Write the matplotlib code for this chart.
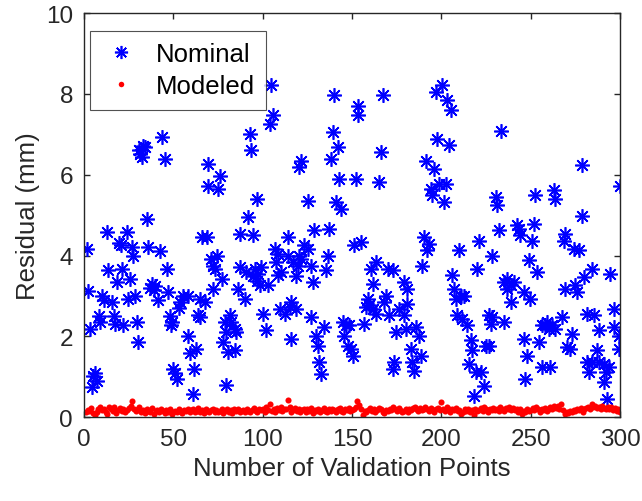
import matplotlib.pyplot as plt

plt.rcParams["font.family"] = ["Liberation Sans", "DejaVu Sans"]

# Nominal residuals (x = validation point index, y = mm)
nom_x = [1.5, 2.4, 3.4, 5.2, 6, 4.5, 7, 9, 8.5, 10, 11, 12.7, 13.6, 15.5, 17, 17.5,
         18.3, 19.5, 20.5, 21, 22, 23.9, 24.8, 25.7, 26.7, 27.5, 28.5, 29.5, 30.4,
         31.5, 32.5, 31, 34, 33, 35, 36, 37, 38, 39.7, 39, 41.6, 42.5, 43.5, 45.3,
         46.3, 47.2, 48, 49, 48.5, 50, 51, 52, 53.7, 53, 55.6,
         61, 58.2, 59.5, 61.5, 62.5, 58.2, 63.8, 64.7, 67.5, 69.4, 75.9, 69.4, 74.9,
         65.7, 68.5, 71.2, 74.1, 72.2, 73.1, 76.9, 72.2, 64.7, 79.6, 78.7, 81.5,
         79.6, 82.4, 84.3, 85.2, 77.8, 80.6, 84.3, 86.2, 89.9, 87.1, 94.6, 91.8,
         96.5, 92.7, 93.6, 87.1, 90.8, 95.5, 97.4, 98.3, 99.2, 94.6, 96.5, 100.1,
         102, 103, 104, 105.8, 104.8, 106.7, 108.5, 107.6, 108.5, 110.4, 109.5,
         112.3, 114, 114, 117, 116, 115, 116, 119.7,
         121.4, 120.5, 118.6, 120.5, 123.3, 125.2, 121.4, 127, 118.6, 128, 128.9,
         125.2, 127, 129.8, 130.8, 131.7, 132.6, 134.5, 135.4, 136.3, 137.3, 138.2,
         139.2, 142, 140.1, 141, 143.8, 142.9, 144.8, 146.6, 148.5, 145.7, 147.6,
         149.4, 150.4, 151.3, 155, 152.2, 153.1, 153.1, 156.9, 158.8, 159.7, 161.5,
         157.8, 163.4, 160.6, 163.4, 161.5, 165.3, 166.2, 167.1, 168.1, 170.9, 169,
         170, 172.7, 174.6, 173.6, 172.7, 176.5, 180.2,
         196.8, 200.5, 203.3, 205.2, 197.7, 204.3, 191.2, 195.9, 194, 198.7, 202.4,
         194.9, 201.5, 190.3, 193, 192.1, 189.3, 179.1, 180.9, 180.9, 179.1, 185.6,
         187.5, 188.4, 182.8, 183.7, 184.7, 206.1, 207, 208, 210.8, 212.7, 208.9,
         211.7, 214.5, 216.4, 217.3, 215.5, 219.2, 222, 223.8, 218.3, 209.8, 221,
         220.1, 228.5, 224.8, 226.6, 227.6, 228.5, 226.6, 235, 233.2, 230.4, 231.3,
         232.3, 235, 236.9, 238.8, 236.9, 238.8,
         242.3, 244.2, 243.2, 251.6, 250.7, 240.4, 246, 249.8, 248.8, 253.5, 252.6,
         262.8, 263.8, 278.7, 278.7, 300, 269.4, 268.4, 274, 276.8, 269.4, 274.9,
         275.9, 279.6, 284.3, 294.5, 246, 247.9, 246.9, 254.4, 256.4, 261, 256.4,
         258.2, 260.1, 262, 263.8, 267.5, 259.1, 273.1, 270.3, 272.2, 281.5, 285.2,
         288, 287.1, 281.5, 284.3, 282.4, 288, 290.8, 293.7, 291.8, 290.8, 292.7,
         296.4, 296.4, 299.2, 299.2]
nom_y = [4.17, 3.13, 2.19, 1.03, 1.1, 0.75, 0.9, 2.35, 2.5, 3.0, 2.9, 4.58, 3.63, 2.85,
         2.5, 2.3, 3.34, 4.3, 4.25, 3.67, 2.27, 4.58, 2.93, 3.43, 4.2, 4.0, 3.0, 2.35,
         1.86, 6.5, 6.43, 6.6, 6.68, 6.7, 4.9, 4.2, 3.2, 3.3, 3.25, 3.15, 2.89, 4.1,
         6.93, 6.4, 3.67, 3.09, 2.5, 2.35, 2.27, 1.2, 1.1, 0.95, 2.85, 2.7, 3.0,
         0.58, 2.0, 1.6, 1.19, 1.69, 3.0, 2.52, 2.93, 2.85, 6.27, 5.98, 5.73, 5.65,
         4.46, 4.46, 3.92, 4.0, 3.75, 3.67, 3.42, 3.18, 2.47, 0.79, 2.35, 2.52,
         2.1, 2.35, 2.19, 2.1, 1.86, 1.61, 1.65, 3.18, 2.93, 4.54, 4.5, 4.95,
         5.4, 7.01, 6.6, 3.71, 3.59, 3.67, 3.55, 3.26, 3.71, 3.5, 3.38, 2.56,
         2.15, 3.26, 7.26, 7.47, 8.21, 4.16, 4.04, 3.84, 3.51, 3.59, 2.68,
         2.56, 4.46, 4.0, 3.84, 2.85, 2.72, 1.93, 3.75,
         6.35, 6.19, 3.5, 4.0, 4.25, 4.16, 3.92, 3.75, 2.68, 3.34, 4.62,
         5.36, 2.47, 2.02, 1.77, 1.36, 1.07, 2.23, 3.63, 4.0, 4.66, 6.39,
         7.05, 6.68, 7.96, 5.32, 5.15, 5.9, 2.35, 2.27, 2.27, 2.02, 1.77,
         1.69, 1.52, 4.25, 4.33, 5.9, 7.71, 7.47, 2.31, 2.93, 2.77, 2.68,
         2.72, 2.56, 3.67, 3.84, 3.3, 5.81, 6.56, 7.96, 2.85, 2.52, 3.01,
         3.67, 3.63, 2.1, 1.36, 1.19, 2.68, 2.19,
         8.04, 8.21, 7.84, 7.59, 6.89, 6.73, 6.35, 6.15, 5.65, 5.77, 5.77,
         5.49, 5.32, 4.46, 4.29, 4.13, 3.75, 3.34, 3.18, 2.8, 2.52, 2.23,
         2.02, 1.52, 1.69, 1.36, 1.15, 3.51, 3.18, 2.93, 3.01, 3.01, 2.52,
         2.43, 2.27, 1.9, 1.65, 1.32, 1.11, 1.11, 0.78, 0.53, 4.13, 4.37,
         3.67, 4.0, 1.77, 1.77, 2.31, 2.47, 2.52, 2.35, 7.09, 5.45, 5.24,
         4.62, 3.34, 3.42, 3.26, 3.18, 2.85,
         4.75, 4.5, 4.66, 4.79, 4.37, 3.34, 3.1, 2.93, 3.88, 3.59, 5.49,
         5.61, 5.4, 6.23, 4.99, 5.73, 4.54, 4.37, 4.16, 4.13, 3.18, 3.26,
         3.09, 3.46, 3.67, 3.55, 1.93, 1.52, 0.94, 1.86, 1.24, 1.24, 2.27,
         2.27, 2.19, 2.27, 2.19, 2.47, 2.35, 2.06, 1.73, 1.69, 2.56, 2.52,
         2.15, 1.65, 1.36, 1.36, 1.11, 1.36, 1.32, 1.24, 1.11, 0.86, 0.45,
         2.68, 2.23, 2.02, 1.69]

# Modeled residuals, points 1..300
mod_y = [0.12, 0.18, 0.15, 0.22, 0.10, 0.05, 0.14, 0.20, 0.25, 0.17,
         0.21, 0.13, 0.09, 0.24, 0.19, 0.16, 0.26, 0.11, 0.18, 0.22,
         0.15, 0.20, 0.12, 0.17, 0.23, 0.28, 0.40, 0.21, 0.16, 0.19,
         0.24, 0.14, 0.18, 0.11, 0.20, 0.16, 0.13, 0.22, 0.09, 0.15,
         0.18, 0.12, 0.21, 0.15, 0.10, 0.17, 0.13, 0.19, 0.08, 0.14,
         0.16, 0.12, 0.20, 0.14, 0.11, 0.18, 0.15, 0.21, 0.13, 0.17,
         0.19, 0.12, 0.16, 0.22, 0.14, 0.18, 0.11, 0.20, 0.15, 0.13,
         0.17, 0.21, 0.14, 0.18, 0.12, 0.16, 0.20, 0.10, 0.15, 0.19,
         0.13, 0.17, 0.11, 0.21, 0.16, 0.19, 0.12, 0.15, 0.18, 0.14,
         0.20, 0.16, 0.12, 0.18, 0.22, 0.15, 0.13, 0.19, 0.17, 0.21,
         0.14, 0.24, 0.18, 0.33, 0.16, 0.20, 0.12, 0.23, 0.17, 0.26,
         0.15, 0.21, 0.19, 0.42, 0.24, 0.13, 0.18, 0.22, 0.16, 0.20,
         0.12, 0.17, 0.21, 0.14, 0.19, 0.16, 0.23, 0.11, 0.18, 0.15,
         0.20, 0.13, 0.17, 0.22, 0.16, 0.12, 0.19, 0.15, 0.21, 0.18,
         0.14, 0.19, 0.23, 0.16, 0.12, 0.20, 0.17, 0.22, 0.15, 0.18,
         0.21, 0.26, 0.40, 0.30, 0.19, 0.06, 0.15, 0.12, 0.18, 0.22,
         0.16, 0.20, 0.13, 0.17, 0.23, 0.19, 0.14, 0.11, 0.18, 0.15,
         0.21, 0.17, 0.24, 0.19, 0.15, 0.22, 0.18, 0.12, 0.16, 0.20,
         0.14, 0.19, 0.17, 0.22, 0.26, 0.20, 0.16, 0.23, 0.18, 0.21,
         0.25, 0.19, 0.15, 0.22, 0.18, 0.14, 0.20, 0.23, 0.17, 0.37,
         0.21, 0.16, 0.24, 0.19, 0.13, 0.20, 0.17, 0.22, 0.15, 0.18,
         0.08, 0.14, 0.19, 0.16, 0.21, 0.12, 0.17, 0.06, 0.20, 0.15,
         0.18, 0.22, 0.16, 0.25, 0.20, 0.14, 0.19, 0.17, 0.23, 0.18,
         0.21, 0.15, 0.24, 0.19, 0.16, 0.22, 0.20, 0.26, 0.18, 0.23,
         0.17, 0.21, 0.14, 0.19, 0.08, 0.16, 0.12, 0.20, 0.15, 0.18,
         0.22, 0.17, 0.25, 0.19, 0.14, 0.21, 0.18, 0.23, 0.16, 0.20,
         0.24, 0.19, 0.27, 0.22, 0.28, 0.20, 0.32, 0.17, 0.09, 0.14,
         0.10, 0.16, 0.12, 0.18, 0.15, 0.20, 0.17, 0.22, 0.14, 0.19,
         0.23, 0.26, 0.21, 0.32, 0.24, 0.28, 0.22, 0.25, 0.19, 0.27,
         0.23, 0.20, 0.25, 0.21, 0.24, 0.18, 0.22, 0.16, 0.20, 0.12]
mod_x = list(range(1, len(mod_y) + 1))

xticks = [0, 50, 100, 150, 200, 250, 300]
yticks = [0, 2, 4, 6, 8, 10]

fig = plt.figure(figsize=(6.42, 5.02), dpi=100)
ax = fig.add_axes([0.131, 0.167, 0.835, 0.805])

ax.plot(nom_x, nom_y, linestyle="none", marker=(8, 2, 0), markersize=10.5,
        markeredgewidth=1.2, color="blue", label="Nominal")
ax.plot(mod_x, mod_y, linestyle="none", marker="o", markersize=4.4,
        markeredgewidth=0, color="red", label="Modeled")

ax.set_xlim(0, 300)
ax.set_ylim(0, 10)
ax.set_xticks(xticks)
ax.set_yticks(yticks)
ax.tick_params(direction="in", length=4, width=1, top=True, right=True,
               labelsize=17.5, colors="#262626", pad=8)
for s in ax.spines.values():
    s.set_color("#262626")
    s.set_linewidth(1.0)

ax.set_xlabel("Number of Validation Points", fontsize=18.5, color="#262626")
ax.set_ylabel("Residual (mm)", fontsize=18.5, color="#262626")

leg = ax.legend(loc="upper left", bbox_to_anchor=(0.011, 0.956), borderaxespad=0,
                fontsize=18.5, fancybox=False, edgecolor="#262626",
                handletextpad=0.6, handlelength=1.5, labelspacing=0.3,
                borderpad=0.45, markerscale=0.9)
leg.get_frame().set_linewidth(0.8)

fig.savefig("out.png", dpi=100)
